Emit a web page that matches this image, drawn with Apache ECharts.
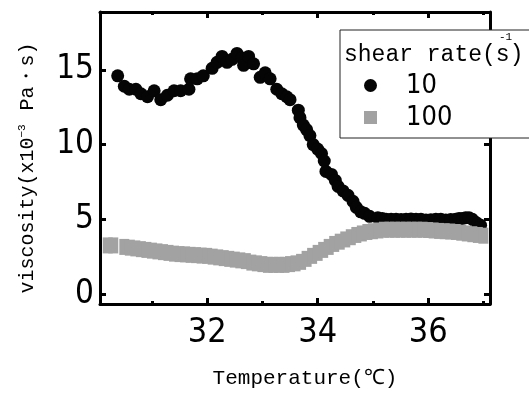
<!DOCTYPE html>
<html>
<head>
<meta charset="utf-8">
<script src="https://cdn.jsdelivr.net/npm/echarts@6/dist/echarts.min.js"></script>
<style>
  html, body { margin: 0; padding: 0; background: #fff; }
  #chart { width: 529px; height: 394px; }
</style>
</head>
<body>
<div id="chart"></div>
<script>
// shear rate 10 s^-1 (black circles)
const tempLow = [
  30.38, 30.5, 30.59, 30.71, 30.8, 30.92, 31.04, 31.16, 31.28, 31.4, 31.52, 31.67,
  31.7, 31.82, 31.93, 32.09, 32.18, 32.27, 32.36, 32.45, 32.54, 32.63, 32.66, 32.75,
  32.84, 32.96, 33.05, 33.14, 33.26, 33.35, 33.44, 33.5, 33.65, 33.68, 33.74, 33.8,
  33.86, 33.92, 34.0, 34.07, 34.12, 34.15, 34.25, 34.32, 34.37, 34.46, 34.55, 34.64,
  34.7, 34.78, 34.85, 34.94, 35.09, 35.17, 35.24, 35.33, 35.42, 35.51, 35.6, 35.69,
  35.78, 35.87, 35.96, 36.05, 36.14, 36.23, 36.32, 36.41, 36.5, 36.56, 36.62, 36.68,
  36.74, 36.8, 36.86, 36.9, 36.95
];
const viscLow = [
  14.6, 13.9, 13.7, 13.7, 13.4, 13.2, 13.6, 13.0, 13.3, 13.6, 13.6, 13.7,
  14.4, 14.4, 14.6, 15.1, 15.5, 15.9, 15.5, 15.7, 16.1, 15.8, 15.3, 15.9,
  15.4, 14.5, 14.8, 14.4, 13.7, 13.4, 13.2, 13.0, 12.3, 11.8, 11.3, 11.0,
  10.6, 10.0, 9.7, 9.4, 8.9, 8.2, 8.0, 7.6, 7.2, 6.9, 6.6, 6.2,
  5.8, 5.5, 5.4, 5.2, 5.1, 5.05, 5.0, 5.0, 5.0, 4.98, 5.0, 5.02,
  5.0, 5.0, 4.95, 4.97, 5.0, 5.0, 4.95, 4.98, 5.0, 5.05, 5.05, 5.1,
  5.1, 5.0, 4.8, 4.7, 4.6
];

// shear rate 100 s^-1 (grey squares)
const tempHigh = [
  30.2, 30.3, 30.5, 30.6, 30.7, 30.8, 30.9, 31.0, 31.1, 31.2, 31.3, 31.4, 31.5,
  31.6, 31.7, 31.8, 31.9, 32.0, 32.1, 32.2, 32.3, 32.4, 32.5, 32.6, 32.7, 32.8,
  32.9, 33.0, 33.1, 33.2, 33.3, 33.4, 33.5, 33.6, 33.7, 33.8, 33.9, 34.0, 34.1,
  34.2, 34.3, 34.4, 34.5, 34.6, 34.7, 34.8, 34.9, 35.0, 35.1, 35.2, 35.3, 35.4,
  35.5, 35.6, 35.7, 35.8, 35.9, 36.0, 36.1, 36.2, 36.3, 36.4, 36.5, 36.6, 36.7,
  36.8, 36.9, 37.0
];
const viscHigh = [
  3.25, 3.25, 3.15, 3.1, 3.05, 3.0, 2.95, 2.9, 2.85, 2.8, 2.75, 2.7, 2.67,
  2.65, 2.62, 2.6, 2.57, 2.55, 2.5, 2.45, 2.4, 2.35, 2.3, 2.25, 2.2, 2.1,
  2.05, 2.0, 1.95, 1.95, 1.95, 1.95, 2.0, 2.05, 2.15, 2.35, 2.55, 2.75, 2.95,
  3.15, 3.35, 3.5, 3.65, 3.8, 3.95, 4.05, 4.15, 4.2, 4.25, 4.3, 4.3, 4.3,
  4.3, 4.3, 4.3, 4.3, 4.3, 4.28, 4.25, 4.22, 4.2, 4.18, 4.15, 4.1, 4.05,
  4.0, 3.95, 3.9
];

const xMajorTicks = [32, 34, 36];
const xMinorTicks = [31, 33, 35, 37];
const yTicks = [0, 5, 10, 15];
const seriesNames = ["10", "100"];

const numFont = "'DejaVu Sans Condensed', 'Liberation Sans', sans-serif";
const monoFont = "'Liberation Mono', monospace";
const X_MIN = 30.06, X_MAX = 37.12;
const Y_MIN = -0.67, Y_MAX = 18.87;

const chart = echarts.init(document.getElementById("chart"));

function xAxisDef(position, ticks, length, withLine, withLabels) {
  return {
    type: "value",
    position: position,
    min: X_MIN,
    max: X_MAX,
    axisLine: { show: withLine, onZero: false, lineStyle: { color: "#000", width: 3 } },
    axisTick: {
      inside: true,
      length: length,
      customValues: ticks,
      lineStyle: { color: "#000", width: 3 },
    },
    axisLabel: withLabels
      ? { customValues: ticks, fontFamily: numFont, fontSize: 34, color: "#000", margin: 12 }
      : { show: false },
    splitLine: { show: false },
  };
}

const xAxes = [
  xAxisDef("bottom", xMajorTicks, 6, true, true),
  xAxisDef("bottom", xMinorTicks, 3, false, false),
  xAxisDef("top", xMajorTicks, 6, true, false),
  xAxisDef("top", xMinorTicks, 3, false, false),
];
Object.assign(xAxes[0], {
  name: "Temperature(℃)",
  nameLocation: "middle",
  nameGap: 64,
  nameTextStyle: { fontFamily: monoFont, fontSize: 21, color: "#000", padding: [0, 0, 0, 20] },
});

function yAxisDef(position, withLabels) {
  return {
    type: "value",
    position: position,
    min: Y_MIN,
    max: Y_MAX,
    axisLine: { show: true, onZero: false, lineStyle: { color: "#000", width: 3 } },
    axisTick: {
      inside: true,
      length: 6,
      customValues: yTicks,
      lineStyle: { color: "#000", width: 3 },
    },
    axisLabel: withLabels
      ? { customValues: yTicks, fontFamily: numFont, fontSize: 33, color: "#000", margin: 6 }
      : { show: false },
    splitLine: { show: false },
  };
}

const yAxes = [yAxisDef("left", true), yAxisDef("right", false)];
Object.assign(yAxes[0], {
  name: "viscosity(x10{sup|−3} Pa・s)",
  nameLocation: "middle",
  nameGap: 62,
  nameTextStyle: {
    fontFamily: monoFont,
    fontSize: 20,
    color: "#000",
    padding: [0, 20, 0, 0],
    rich: {
      sup: { fontFamily: monoFont, fontSize: 11, color: "#000", verticalAlign: "top", padding: [0, 2, 10, 0] },
    },
  },
});

chart.setOption({
  animation: false,
  backgroundColor: "#fff",
  grid: { left: 100, right: 39, top: 12, bottom: 89 },
  xAxis: xAxes,
  yAxis: yAxes,
  title: [
    {
      text: "shear rate(s)",
      left: 344,
      top: 43,
      padding: 0,
      z: 30,
      textStyle: { fontFamily: monoFont, fontSize: 23, fontWeight: "normal", color: "#000" },
    },
    {
      text: "-1",
      left: 499,
      top: 32,
      padding: 0,
      z: 30,
      textStyle: { fontFamily: monoFont, fontSize: 11, fontWeight: "normal", color: "#000" },
    },
  ],
  legend: {
    orient: "vertical",
    left: 340,
    top: 30,
    z: 20,
    padding: [42, 100, 7, 24],
    backgroundColor: "#fff",
    borderColor: "#222",
    borderWidth: 1,
    itemWidth: 13,
    itemHeight: 13,
    itemGap: 5,
    data: [
      { name: seriesNames[0], icon: "circle" },
      { name: seriesNames[1], icon: "rect" },
    ],
    textStyle: { fontFamily: numFont, fontSize: 27, color: "#000", lineHeight: 20, padding: [0, 0, 0, 24] },
  },
  series: [
    {
      name: seriesNames[0],
      type: "scatter",
      symbol: "circle",
      symbolSize: 13,
      itemStyle: { color: "#050505", opacity: 1 },
      data: tempLow.map((t, i) => [t, viscLow[i]]),
      z: 2,
    },
    {
      name: seriesNames[1],
      type: "scatter",
      symbol: "rect",
      symbolSize: [10, 16],
      itemStyle: { color: "#a2a2a2", opacity: 1 },
      data: tempHigh.map((t, i) => [t, viscHigh[i]]),
      z: 3,
    },
  ],
});
</script>
</body>
</html>
